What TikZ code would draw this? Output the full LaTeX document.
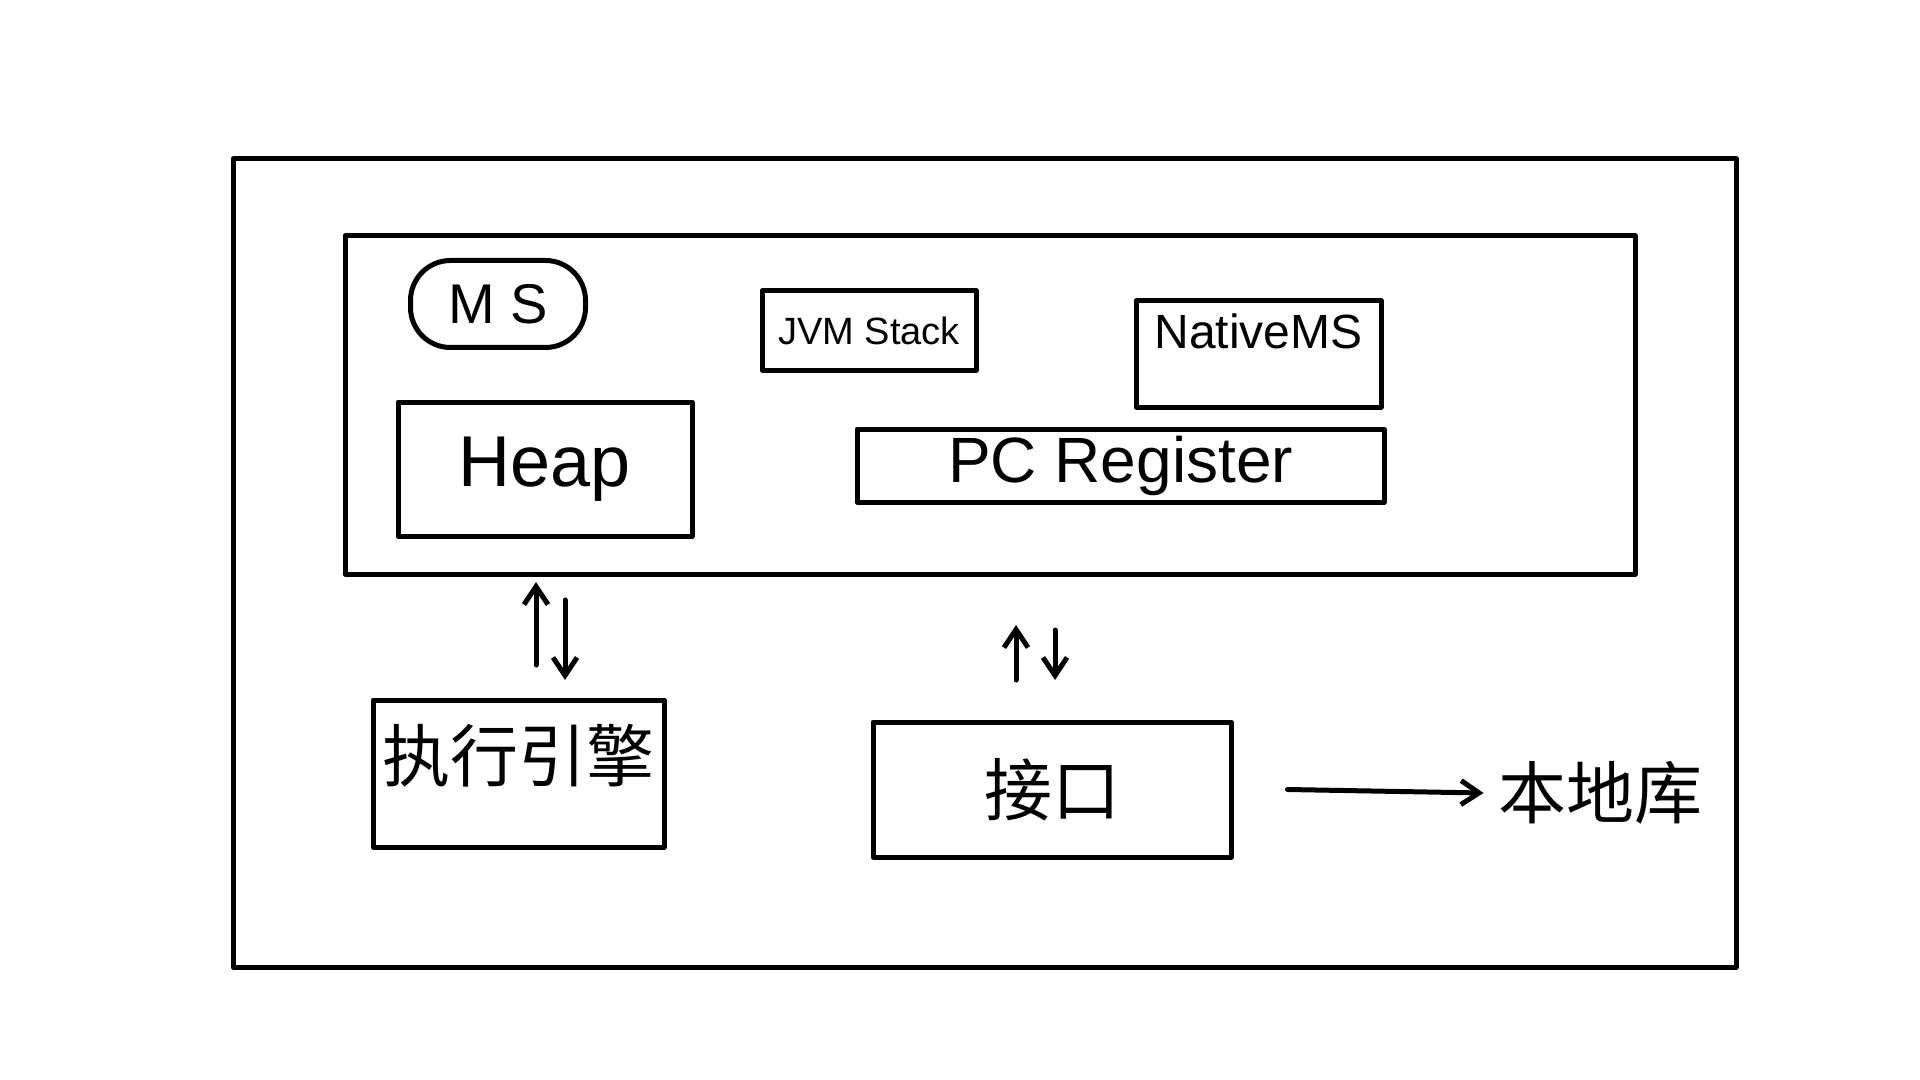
\documentclass[tikz,border=0pt]{standalone}
\usepackage{fontspec}
\setmainfont{Liberation Sans}
\newfontfamily\cjk{Noto Sans CJK SC}
\usetikzlibrary{arrows.meta}
\begin{document}
\begin{tikzpicture}[x=0.5pt,y=-0.5pt, line width=2.5pt, line cap=round, line join=round,
  box/.style={draw, rectangle, inner sep=0pt},
  fs/.style={font=\fontsize{#1}{#1}\selectfont},
  cjkfs/.style={font=\cjk\fontsize{#1}{#1}\selectfont},
  arr/.style={-{Straight Barb[length=9pt,width=12pt]}}]
\useasboundingbox[fill=white] (0,0) rectangle (1920,1080);
% outer and inner frames
\node[box, minimum width=751.5pt, minimum height=404pt] (outer) at (984.5,563) {};
\node[box, minimum width=645pt, minimum height=169pt] (inner) at (990,405) {};
% runtime areas
\node[box, rounded corners=20pt, minimum width=87.5pt, minimum height=43.5pt, fs=28pt] (ms) at (498,304) {M S};
\node[box, minimum width=107pt, minimum height=39.5pt, fs=19pt] (jvm) at (869,330.5) {JVM Stack};
\node[box, minimum width=122.5pt, minimum height=53pt, fs=24pt, text depth=23pt] (native) at (1258.5,354) {NativeMS};
\node[box, minimum width=147pt, minimum height=67pt, fs=36pt] (heap) at (545,469) {Heap};
\node[box, minimum width=263.5pt, minimum height=36.5pt, fs=32pt] (pc) at (1120.5,465.5) {PC Register};
% bottom row
\node[box, minimum width=145.5pt, minimum height=73.5pt, cjkfs=34pt, text depth=21pt] (exec) at (518.5,773.5) {执行引擎};
\node[box, minimum width=179pt, minimum height=67.5pt, cjkfs=34pt] (iface) at (1052,789.5) {接口};
\node[cjkfs=34pt, inner sep=0pt] (lib) at (1600,793) {本地库};
% arrows
\coordinate (a1s) at (536,665); \coordinate (a1e) at (536,582);
\coordinate (a2s) at (565,600); \coordinate (a2e) at (565,680);
\coordinate (b1s) at (1016,680); \coordinate (b1e) at (1016,625);
\coordinate (b2s) at (1055,630); \coordinate (b2e) at (1055,680);
\draw[arr] (a1s) -- (a1e);
\draw[arr] (a2s) -- (a2e);
\draw[arr] (b1s) -- (b1e);
\draw[arr] (b2s) -- (b2e);
\draw[arr] ([xshift=27pt]iface.east) -- ([xshift=-6pt]lib.west);
\end{tikzpicture}
\end{document}
